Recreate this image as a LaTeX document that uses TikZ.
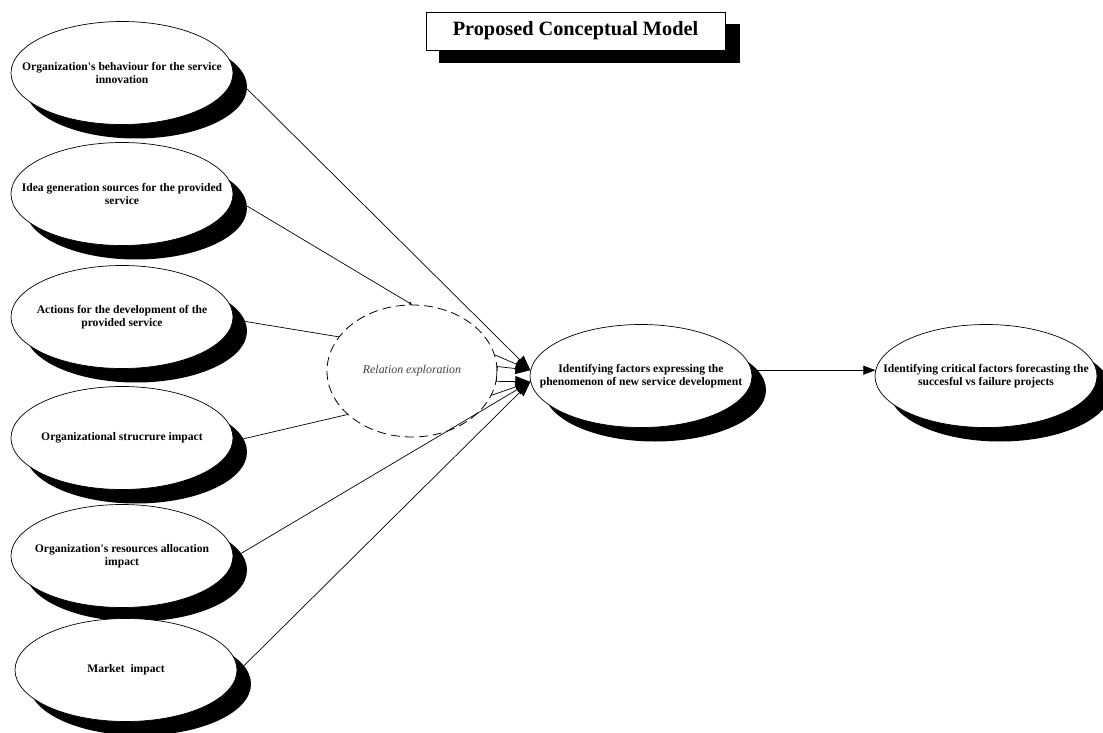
\documentclass[tikz,border=0pt]{standalone}
\usepackage{fontspec}
\setmainfont{Liberation Serif}
\usetikzlibrary{shapes.geometric,arrows.meta}
\begin{document}
\begin{tikzpicture}[x=1pt,y=-1pt,
  oval/.style={ellipse, draw=black, line width=0.7pt, fill=white, minimum width=222pt, minimum height=103pt, inner sep=0pt},
  ovalshadow/.style={ellipse, fill=black, minimum width=222pt, minimum height=103pt, inner sep=0pt},
  otext/.style={font=\bfseries\fontsize{11.6}{13.4}\selectfont, align=center, inner sep=0pt},
  relbox/.style={ellipse, draw=black, line width=0.8pt, dash pattern=on 9pt off 5pt, minimum width=170pt, minimum height=132pt, inner sep=0pt},
  titlebox/.style={draw=black, line width=0.7pt, fill=white, minimum width=299pt, minimum height=38pt, inner sep=0pt, font=\bfseries\fontsize{20.3}{23}\selectfont},
  titleshadow/.style={fill=black, minimum width=301pt, minimum height=39pt, inner sep=0pt},
  conn/.style={line width=0.7pt},
  arr/.style={conn, -{Triangle[length=15pt,width=11pt]}},
  smallarr/.style={conn, -{Triangle[length=12pt,width=9pt]}},
  dotarr/.style={conn, -{Triangle[length=3pt,width=3pt]}}
]
\useasboundingbox (0,0) rectangle (1103,733);

% title
\node[titleshadow] (titlesh) at (589,44) {};
\node[titlebox] (title) at (575.5,31) {Proposed Conceptual Model};

% left ovals
\node[ovalshadow] (s1) at (136,87) {};
\node[oval] (e1) at (122,73) {};
\node[otext] (t1) at (e1.center) {Organization\textquotesingle s behaviour for the service\\innovation};

\node[ovalshadow] (s2) at (136,208) {};
\node[oval] (e2) at (122,194) {};
\node[otext] (t2) at (e2.center) {Idea generation sources for the provided\\service};

\node[ovalshadow] (s3) at (136,331) {};
\node[oval] (e3) at (122,317) {};
\node[otext] (t3) at (e3.center) {Actions for the development of the\\provided service};

\node[ovalshadow] (s4) at (136,452) {};
\node[oval] (e4) at (122,438) {};
\node[otext] (t4) at (e4.center) {Organizational strucrure impact};

\node[ovalshadow] (s5) at (136,570) {};
\node[oval] (e5) at (122,556) {};
\node[otext] (t5) at (e5.center) {Organization\textquotesingle s resources allocation\\impact};

\node[ovalshadow] (s6) at (140,684) {};
\node[oval] (e6) at (126,670) {};
\node[otext] (t6) at (e6.center) {Market~ impact};

% relation exploration
\node[relbox] (rel) at (412,371) {};
\node[font=\itshape\fontsize{11.9}{14}\selectfont, text=black!75, inner sep=0pt] (relt) at (rel.center) {Relation exploration};

% middle oval
\node[ovalshadow] (sm) at (655,390) {};
\node[oval] (mid) at (641,376) {};
\node[otext] (tm) at (mid.center) {Identifying factors expressing the\\phenomenon of new service development};

% right oval
\node[ovalshadow] (sr) at (1000,390) {};
\node[oval] (right) at (986,376) {};
\node[otext] (tr) at (right.center) {Identifying critical factors forecasting the\\succesful vs failure projects};

% connectors
\draw[arr] (s1.-1) -- (mid.177);
\draw[dotarr] (s2.1.5) -- (rel.north);
\draw[conn] (s3.5) -- (rel.155);
\draw[conn] (s4.7.2) -- (rel.214);
\draw[arr] (s5.9.7) -- (mid.183);
\draw[arr] (s6.10.5) -- (mid.183);

\draw[arr] (rel.11) -- (mid.177);
\draw[arr] (rel.3) -- (mid.177);
\draw[arr] (rel.-7) -- (mid.183);
\draw[arr] (rel.-17) -- (mid.183);
\draw[conn] (rel.3) -- (rel.-7);

\draw[smallarr] (mid.3.6) -- (right.177);
\end{tikzpicture}
\end{document}
